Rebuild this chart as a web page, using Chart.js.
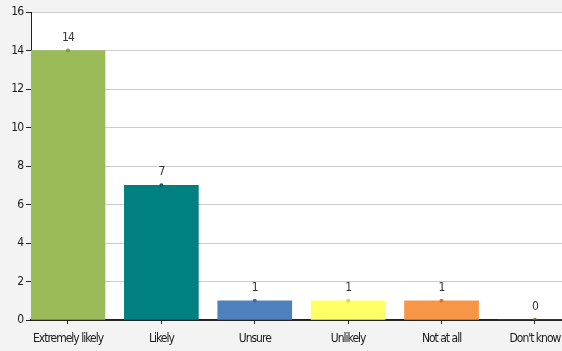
<!DOCTYPE html>
<html>
<head>
<meta charset="utf-8">
<script src="https://cdn.jsdelivr.net/npm/chart.js@4/dist/chart.umd.min.js"></script>
<style>
  html, body { margin: 0; padding: 0; background: #f3f3f3; overflow: hidden; }
  #wrap { width: 562px; height: 351px; }
</style>
</head>
<body>
<div id="wrap"><canvas id="c" width="562" height="351"></canvas></div>
<script>
const categories = ["Extremely likely", "Likely", "Unsure", "Unlikely", "Not at all", "Don't know"];
const responses = [14, 7, 1, 1, 1, 0];
const barColors = ["#9bbb59", "#008080", "#4f81bd", "#ffff66", "#f79646", "#c0504d"];
const markerColors = ["#7f9c45", "#006666", "#3f6a9e", "#d8d850", "#d07a36", "#a83f3c"];
const yTicks = [0, 2, 4, 6, 8, 10, 12, 14, 16];

const FONT = "'DejaVu Sans Condensed', 'Liberation Sans Narrow', 'Liberation Sans', Arial, sans-serif";

const barPoints = responses.map((v, i) => ({ x: i, y: v }));

// Narrow lettering for all chart text, plus the grey panel and white plot area.
const backgroundPlugin = {
  id: 'panelBackground',
  beforeDraw(chart) {
    const { ctx, chartArea: a } = chart;
    ctx.letterSpacing = '-1px';
    ctx.save();
    ctx.fillStyle = '#f3f3f3';
    ctx.fillRect(0, 0, chart.width, chart.height);
    ctx.fillStyle = '#ffffff';
    ctx.fillRect(a.left, a.top, a.right - a.left, a.bottom - a.top);
    ctx.restore();
  }
};

const valueLabels = {
  id: 'valueLabels',
  afterDatasetsDraw(chart) {
    const { ctx } = chart;
    const meta = chart.getDatasetMeta(0);
    ctx.save();
    ctx.font = "12px " + FONT;
    ctx.fillStyle = '#333333';
    ctx.textAlign = 'center';
    ctx.textBaseline = 'middle';
    meta.data.forEach((el, i) => {
      ctx.fillText(String(responses[i]), el.x, el.y - 13);
    });
    ctx.restore();
  }
};

new Chart(document.getElementById('c'), {
  data: {
    datasets: [
      {
        type: 'bar',
        data: barPoints,
        backgroundColor: barColors,
        borderWidth: 0,
        barThickness: 74,
        order: 2
      },
      {
        type: 'line',
        data: barPoints,
        showLine: false,
        pointRadius: 2,
        pointBorderWidth: 0,
        pointBackgroundColor: markerColors,
        order: 1
      }
    ]
  },
  options: {
    responsive: false,
    animation: false,
    layout: { autoPadding: false, padding: { top: 12, right: 0, left: 0, bottom: 0 } },
    plugins: { legend: { display: false }, tooltip: { enabled: false } },
    scales: {
      x: {
        type: 'linear',
        offset: false,
        min: -0.396,
        max: 5.29,
        afterFit(s) { s.height = 31; s.paddingLeft = 0; s.paddingRight = 0; },
        afterBuildTicks(s) { s.ticks = categories.map((_, i) => ({ value: i })); },
        ticks: {
          autoSkip: false,
          maxRotation: 0,
          padding: 8,
          color: '#1a1a1a',
          font: { family: FONT, size: 12 },
          callback: (v) => categories[v] ?? ''
        },
        grid: { offset: false, drawOnChartArea: false, tickLength: 4, tickColor: '#222222', tickWidth: 1 },
        border: { color: '#222222', width: 2 }
      },
      y: {
        min: 0,
        max: 16,
        afterFit(s) { s.width = 31; },
        afterBuildTicks(s) { s.ticks = yTicks.map(v => ({ value: v })); },
        ticks: {
          padding: 3,
          color: '#1a1a1a',
          font: { family: FONT, size: 12 }
        },
        grid: { color: '#cccccc', tickLength: 5, tickColor: '#222222', lineWidth: 1 },
        border: { color: '#222222', width: 1 }
      }
    }
  },
  plugins: [backgroundPlugin, valueLabels]
});
</script>
</body>
</html>
